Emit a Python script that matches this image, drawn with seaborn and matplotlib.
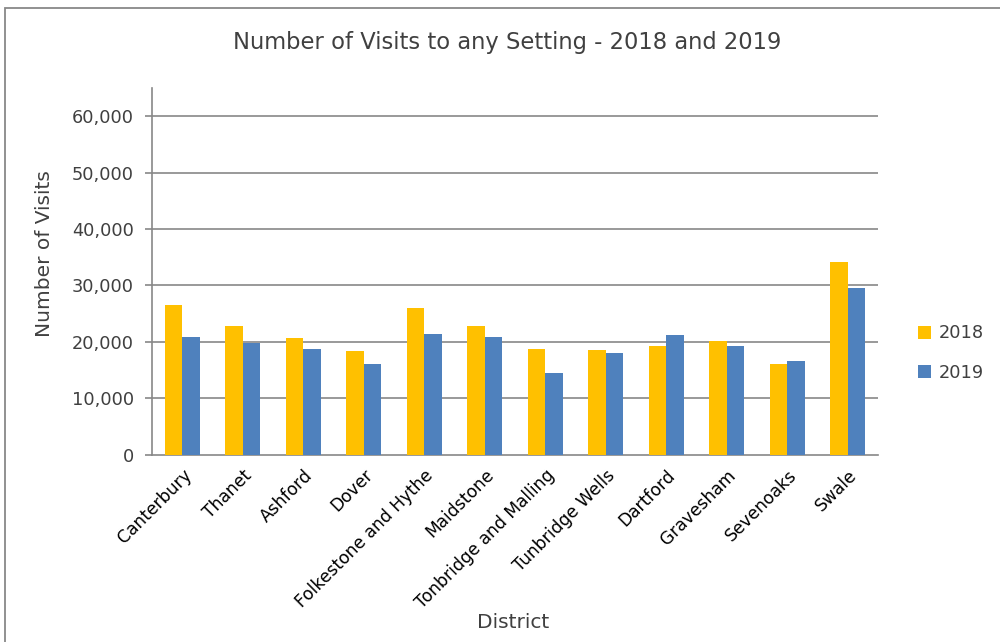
import matplotlib
matplotlib.use('Agg')
import matplotlib.pyplot as plt
import matplotlib.patches as mpatches
import matplotlib.transforms as mtransforms
from matplotlib.ticker import FuncFormatter, FixedLocator
import seaborn as sns
import pandas as pd
import numpy as np

districts = ["Canterbury", "Thanet", "Ashford", "Dover", "Folkestone and Hythe",
             "Maidstone", "Tonbridge and Malling", "Tunbridge Wells", "Dartford",
             "Gravesham", "Sevenoaks", "Swale"]
visits_2018 = [26470, 22850, 20710, 18460, 26050, 22910, 18750, 18630, 19350, 20180, 16080, 34130]
visits_2019 = [20950, 19820, 18750, 16020, 21480, 20890, 14540, 18040, 21310, 19350, 16620, 29500]
years = ["2018", "2019"]
y_ticks = [0, 10000, 20000, 30000, 40000, 50000, 60000]

df = pd.DataFrame({
    "District": districts * 2,
    "Year": [years[0]] * len(districts) + [years[1]] * len(districts),
    "Visits": visits_2018 + visits_2019,
})

sns.set_style("white")
plt.rcParams['font.family'] = ['DejaVu Sans']
text_col = "#404040"
grid_col = "#878787"

fig = plt.figure(figsize=(10, 6.42), dpi=100)
ax = fig.add_axes([0.152, 0.2913, 0.726, 0.572])

# outer chart border
fig.patches.append(mpatches.Rectangle((0.005, -0.1), 1.2, 1.0875, transform=fig.transFigure,
                                      fill=False, edgecolor="#888888", linewidth=1.3))

sns.barplot(data=df, x="District", y="Visits", hue="Year", order=districts,
            palette={"2018": "#FFC000", "2019": "#4F81BD"}, saturation=1,
            width=0.575, gap=0, edgecolor="none", ax=ax, zorder=3)

ax.set_ylim(0, 65000)
ax.set_xlim(-0.5, len(districts) - 0.5)
ax.yaxis.set_major_locator(FixedLocator(y_ticks))
ax.yaxis.set_major_formatter(FuncFormatter(lambda v, p: f"{int(v):,}"))
for t in y_ticks[1:]:
    ax.axhline(t, color=grid_col, linewidth=1.2, zorder=1)

ax.set_xticks(np.arange(len(districts)))
ax.set_xticklabels(districts, rotation=45, ha="right", rotation_mode="anchor",
                   fontsize=12.3, color="black")
# nudge rotated labels a little to the left, like the original
shift = mtransforms.ScaledTranslation(-4 / 100, 0, fig.dpi_scale_trans)
for lbl in ax.get_xticklabels():
    lbl.set_transform(lbl.get_transform() + shift)
ax.set_xticks(np.arange(-0.5, len(districts)), minor=True)
ax.tick_params(axis="x", which="major", length=0, pad=8)
ax.tick_params(axis="x", which="minor", length=5, width=1.2, color=grid_col, direction="out")
ax.tick_params(axis="y", length=5, width=1.2, color=grid_col, direction="out",
               labelsize=12.8, labelcolor=text_col, pad=8)
ax.tick_params(bottom=True, left=True)

for s in ["top", "right"]:
    ax.spines[s].set_visible(False)
for s in ["left", "bottom"]:
    ax.spines[s].set_color(grid_col)
    ax.spines[s].set_linewidth(1.2)

ax.set_xlabel("")
ax.set_ylabel("")
fig.text(0.045, 1 - 254 / 642, "Number of Visits", rotation=90, ha="center", va="center",
         fontsize=14.5, color=text_col)
fig.text(0.513, 1 - 623 / 642, "District", ha="center", va="center",
         fontsize=14.5, color=text_col)
fig.text(0.507, 1 - 43 / 642, "Number of Visits to any Setting - 2018 and 2019",
         ha="center", va="center", fontsize=16.3, color=text_col)

handles, labels = ax.get_legend_handles_labels()
ax.legend(handles, labels, loc="center left", bbox_to_anchor=(0.902, 1 - 353 / 642),
          bbox_transform=fig.transFigure, frameon=False, handlelength=0.75,
          handleheight=0.75, handletextpad=0.4, labelspacing=1.2, fontsize=12.8,
          labelcolor=text_col)

fig.savefig("out.png", dpi=100)
